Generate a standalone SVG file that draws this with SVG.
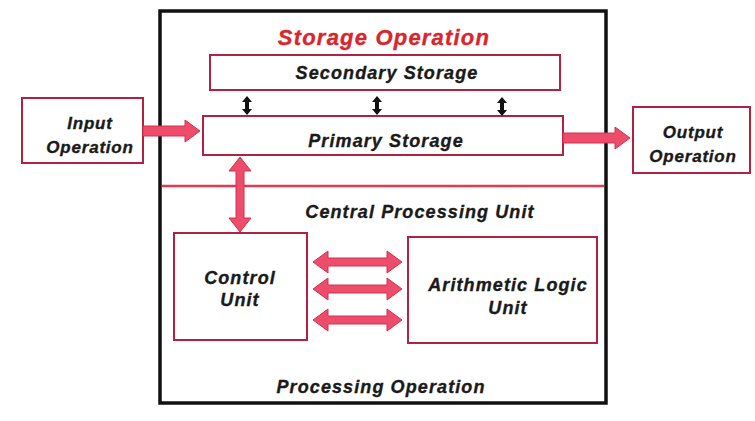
<svg xmlns="http://www.w3.org/2000/svg" width="755" height="421" viewBox="0 0 755 421">
<style>
.box{fill:#fff;stroke:#b42040;stroke-width:2}
.t{font-family:"Liberation Sans",Arial,sans-serif;font-weight:bold;font-style:italic;fill:#1a1a1a;stroke:#1a1a1a;stroke-width:0.35px;text-anchor:middle;font-size:18px;letter-spacing:1.1px}
.arr{fill:#ec4d6a;stroke:#d8304f;stroke-width:1}
.sm{fill:#111}
</style>
<rect width="755" height="421" fill="#fff"/>
<g id="processing-operation">
<rect x="160" y="11" width="446" height="392" fill="none" stroke="#111" stroke-width="3.5"/>
<line x1="162" y1="186" x2="604" y2="186" stroke="#e03a55" stroke-width="2.5"/>
<text class="t" x="381" y="393">Processing Operation</text>
</g>
<g id="storage-operation">
<text x="384" y="45" font-family="Liberation Sans,Arial,sans-serif" font-weight="bold" font-style="italic" font-size="22" letter-spacing="1.2" fill="#d8262e" stroke="#d8262e" stroke-width="0.35" text-anchor="middle">Storage Operation</text>
</g>
<g id="secondary-storage">
<rect class="box" x="210" y="55" width="350" height="35"/>
<text class="t" x="387" y="79">Secondary Storage</text>
</g>
<g id="primary-storage">
<rect class="box" x="203" y="116" width="360" height="39"/>
<text class="t" x="386" y="147">Primary Storage</text>
</g>
<g id="input-operation">
<rect class="box" x="22" y="98" width="121" height="65"/>
<text class="t" x="90" y="129" style="font-size:17px;letter-spacing:0.8px">Input</text>
<text class="t" x="90" y="153" style="font-size:17px;letter-spacing:0.8px">Operation</text>
</g>
<g id="output-operation">
<rect class="box" x="633" y="107" width="117" height="66"/>
<text class="t" x="693" y="138" style="font-size:17px;letter-spacing:0.8px">Output</text>
<text class="t" x="693" y="162" style="font-size:17px;letter-spacing:0.8px">Operation</text>
</g>
<g id="cpu-label">
<text class="t" x="420" y="218">Central Processing Unit</text>
</g>
<g id="control-unit">
<rect class="box" x="174" y="233" width="133" height="107"/>
<text class="t" x="240" y="284">Control</text>
<text class="t" x="240" y="306">Unit</text>
</g>
<g id="alu">
<rect class="box" x="408" y="237" width="189" height="106"/>
<text class="t" x="508" y="291">Arithmetic Logic</text>
<text class="t" x="508" y="314">Unit</text>
</g>
<g id="connectors">
<path class="arr" d="M143 126 L185 126 L185 120 L200 131 L185 142 L185 136 L143 136 Z"/>
<path class="arr" d="M563 133 L615 133 L615 127 L630 138 L615 149 L615 143 L563 143 Z"/>
<path class="arr" d="M240 157 L251 171 L244 171 L244 218 L251 218 L240 232 L229 218 L236 218 L236 171 L229 171 Z"/>
<path class="arr" d="M313 262 L328 251 L328 258 L387 258 L387 251 L402 262 L387 273 L387 266 L328 266 L328 273 Z"/>
<path class="arr" d="M313 289 L328 278 L328 285 L387 285 L387 278 L402 289 L387 300 L387 293 L328 293 L328 300 Z"/>
<path class="arr" d="M313 320 L328 309 L328 316 L387 316 L387 309 L402 320 L387 331 L387 324 L328 324 L328 331 Z"/>
<path class="sm" d="M247 96 L252 102 L249 102 L249 109 L252 109 L247 115 L242 109 L245 109 L245 102 L242 102 Z"/>
<path class="sm" d="M377 96 L382 102 L379 102 L379 109 L382 109 L377 115 L372 109 L375 109 L375 102 L372 102 Z"/>
<path class="sm" d="M502 97 L507 103 L504 103 L504 110 L507 110 L502 116 L497 110 L500 110 L500 103 L497 103 Z"/>
</g>
</svg>
